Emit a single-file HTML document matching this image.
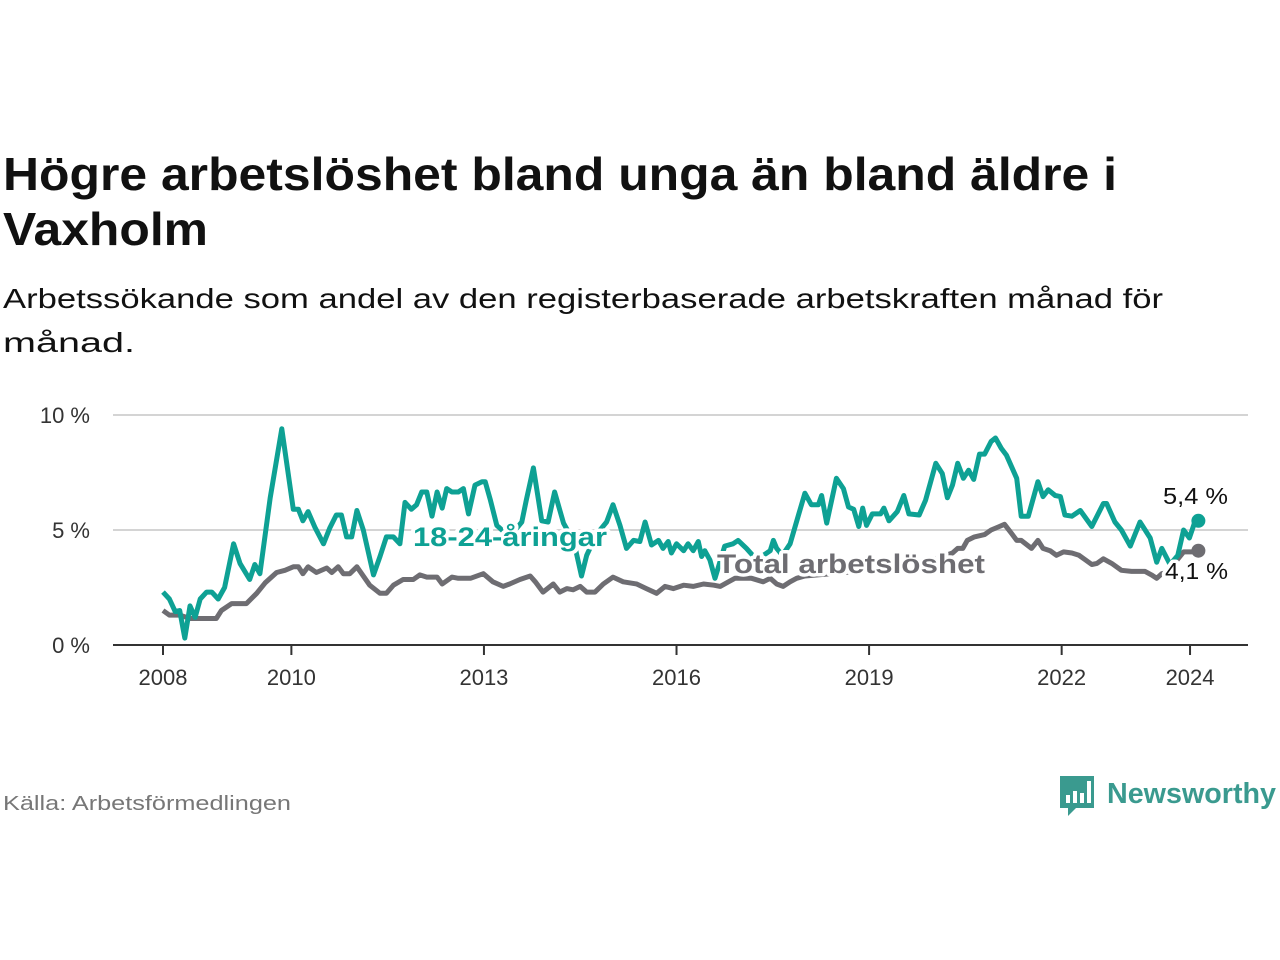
<!DOCTYPE html>
<html><head><meta charset="utf-8"><style>
html,body{margin:0;padding:0;background:#fff;}
svg{display:block;font-family:"Liberation Sans",sans-serif;}
</style></head><body>
<svg id="chart" width="1280" height="960" viewBox="0 0 1280 960" xmlns="http://www.w3.org/2000/svg">
<text x="3" y="190" font-size="46" font-weight="bold" fill="#111" textLength="1114" lengthAdjust="spacingAndGlyphs">Högre arbetslöshet bland unga än bland äldre i</text>
<text x="3" y="245" font-size="46" font-weight="bold" fill="#111" textLength="205" lengthAdjust="spacingAndGlyphs">Vaxholm</text>
<text x="3" y="308" font-size="28" fill="#111" textLength="1160" lengthAdjust="spacingAndGlyphs">Arbetssökande som andel av den registerbaserade arbetskraften månad för</text>
<text x="3" y="352" font-size="28" fill="#111" textLength="132" lengthAdjust="spacingAndGlyphs">månad.</text>
<g id="grid"></g>
<g id="series"></g>
<g id="labels"></g>
<text x="3" y="810" font-size="20" fill="#777" textLength="288" lengthAdjust="spacingAndGlyphs">Källa: Arbetsförmedlingen</text>
<g>
<path d="M1060 776 h34 v32 h-18 l-8 8 v-8 h-8 z" fill="#3a9a8f"/>
<rect x="1066" y="795" width="4" height="8" fill="#fff"/>
<rect x="1073" y="791" width="4" height="12" fill="#fff"/>
<rect x="1080" y="793" width="4" height="10" fill="#fff"/>
<rect x="1087" y="781" width="4" height="22" fill="#fff"/>
<text x="1107" y="803" font-size="29" font-weight="bold" fill="#3a9a8f" textLength="169" lengthAdjust="spacingAndGlyphs">Newsworthy</text>
</g>
</svg>
<script>
const yTicks=[0,5,10];
const yTickLabels=["0 %","5 %","10 %"];
const xTicks=[2008,2010,2013,2016,2019,2022,2024];
const youthT=[2008.0,2008.1,2008.19,2008.26,2008.34,2008.42,2008.5,2008.58,2008.68,2008.76,2008.86,2008.96,2009.1,2009.2,2009.35,2009.43,2009.51,2009.67,2009.85,2010.03,2010.11,2010.18,2010.26,2010.37,2010.5,2010.6,2010.7,2010.78,2010.86,2010.94,2011.02,2011.12,2011.28,2011.38,2011.48,2011.59,2011.69,2011.77,2011.87,2011.95,2012.03,2012.11,2012.19,2012.27,2012.35,2012.42,2012.5,2012.6,2012.68,2012.76,2012.86,2012.97,2013.02,2013.1,2013.2,2013.4,2013.59,2013.66,2013.77,2013.85,2013.9,2014.0,2014.1,2014.24,2014.4,2014.52,2014.6,2014.75,2014.91,2015.01,2015.12,2015.22,2015.33,2015.43,2015.51,2015.61,2015.72,2015.79,2015.87,2015.92,2016.0,2016.11,2016.18,2016.26,2016.34,2016.39,2016.44,2016.52,2016.6,2016.75,2016.88,2016.96,2017.09,2017.25,2017.46,2017.51,2017.56,2017.65,2017.77,2017.9,2018.0,2018.1,2018.21,2018.26,2018.34,2018.49,2018.6,2018.68,2018.76,2018.84,2018.9,2018.96,2019.05,2019.18,2019.23,2019.31,2019.44,2019.54,2019.62,2019.78,2019.88,2020.04,2020.14,2020.22,2020.3,2020.38,2020.47,2020.55,2020.63,2020.72,2020.8,2020.9,2020.97,2021.06,2021.14,2021.3,2021.37,2021.48,2021.63,2021.71,2021.79,2021.9,2021.98,2022.05,2022.16,2022.29,2022.47,2022.65,2022.7,2022.83,2022.93,2023.07,2023.22,2023.38,2023.48,2023.56,2023.69,2023.81,2023.9,2023.99,2024.08,2024.13];
const youthV=[2.3,2.0,1.45,1.5,0.3,1.7,1.2,2.0,2.3,2.3,2.0,2.5,4.4,3.55,2.85,3.5,3.1,6.4,9.4,5.9,5.9,5.4,5.8,5.1,4.4,5.1,5.65,5.65,4.7,4.7,5.85,5.0,3.05,3.85,4.7,4.7,4.4,6.2,5.9,6.1,6.65,6.65,5.6,6.65,5.95,6.8,6.65,6.65,6.8,5.7,6.95,7.1,7.1,6.3,5.2,4.7,5.35,6.3,7.7,6.3,5.4,5.35,6.65,5.3,4.5,3.0,3.9,4.8,5.35,6.1,5.2,4.2,4.55,4.5,5.35,4.35,4.55,4.2,4.5,4.0,4.4,4.1,4.4,4.1,4.5,3.85,4.1,3.7,2.9,4.3,4.4,4.55,4.2,3.7,4.1,4.55,4.2,3.9,4.4,5.65,6.6,6.1,6.1,6.5,5.3,7.25,6.8,6.0,5.9,5.15,5.95,5.2,5.7,5.7,5.95,5.4,5.8,6.5,5.7,5.65,6.3,7.9,7.45,6.4,6.95,7.9,7.25,7.6,7.2,8.3,8.3,8.85,9.0,8.55,8.25,7.25,5.6,5.6,7.1,6.45,6.75,6.5,6.45,5.65,5.6,5.85,5.15,6.15,6.15,5.35,5.0,4.3,5.35,4.65,3.6,4.2,3.5,3.9,5.0,4.65,5.4,5.4];
const totalT=[2008.0,2008.1,2008.26,2008.42,2008.83,2008.91,2009.07,2009.3,2009.46,2009.59,2009.77,2009.9,2010.03,2010.11,2010.18,2010.26,2010.39,2010.55,2010.63,2010.73,2010.81,2010.91,2011.02,2011.22,2011.38,2011.48,2011.59,2011.74,2011.9,2012.0,2012.11,2012.27,2012.35,2012.5,2012.6,2012.79,2012.99,2013.14,2013.3,2013.4,2013.56,2013.72,2013.8,2013.92,2014.08,2014.18,2014.29,2014.39,2014.5,2014.6,2014.73,2014.86,2015.01,2015.17,2015.38,2015.53,2015.69,2015.82,2015.95,2016.11,2016.26,2016.42,2016.58,2016.68,2016.81,2016.91,2017.04,2017.17,2017.35,2017.46,2017.56,2017.66,2017.77,2017.87,2018.0,2018.4,2018.8,2019.2,2019.6,2020.0,2020.3,2020.38,2020.46,2020.53,2020.64,2020.8,2020.9,2021.03,2021.11,2021.22,2021.3,2021.37,2021.53,2021.63,2021.71,2021.82,2021.92,2022.03,2022.16,2022.27,2022.37,2022.47,2022.55,2022.65,2022.78,2022.93,2023.09,2023.3,2023.4,2023.48,2023.56,2023.64,2023.9,2024.08,2024.13];
const totalV=[1.5,1.3,1.3,1.15,1.15,1.5,1.8,1.8,2.25,2.7,3.15,3.25,3.4,3.4,3.1,3.4,3.15,3.35,3.15,3.4,3.1,3.1,3.4,2.6,2.25,2.25,2.6,2.85,2.85,3.05,2.95,2.95,2.65,2.95,2.9,2.9,3.1,2.75,2.55,2.65,2.85,3.0,2.75,2.3,2.65,2.3,2.45,2.4,2.55,2.3,2.3,2.65,2.95,2.75,2.65,2.45,2.25,2.55,2.45,2.6,2.55,2.65,2.6,2.55,2.75,2.9,2.9,2.9,2.75,2.9,2.65,2.55,2.75,2.9,3.0,3.1,3.2,3.3,3.5,3.7,4.0,4.2,4.2,4.55,4.7,4.8,5.0,5.15,5.25,4.85,4.55,4.55,4.2,4.55,4.2,4.1,3.9,4.05,4.0,3.9,3.7,3.5,3.55,3.75,3.55,3.25,3.2,3.2,3.05,2.9,3.1,3.15,4.05,4.05,4.1];
const NS="http://www.w3.org/2000/svg";
const X=t=>163+(t-2008)*64.19;
const Y=v=>645-v*23;
function mk(tag,attrs,parent){const e=document.createElementNS(NS,tag);for(const k in attrs)e.setAttribute(k,attrs[k]);parent.appendChild(e);return e;}
const grid=document.getElementById('grid');
yTicks.forEach((v,i)=>{
  if(v>0){const l=mk('line',{x1:113,x2:1248,y1:Y(v),y2:Y(v),stroke:'#d4d4d4','stroke-width':2},grid);
  
  }
  const t=mk('text',{x:90,y:Y(v)+8,'font-size':22,fill:'#333','text-anchor':'end'},grid);
  
  
  t.textContent=yTickLabels[i];
});
const ax=mk('line',{x1:113,x2:1248,y1:645,y2:645,stroke:'#333','stroke-width':2},grid);


xTicks.forEach(y=>{
  const tk=mk('line',{x1:X(y),x2:X(y),y1:645,y2:655,stroke:'#333','stroke-width':2},grid);
  
  
  const t=mk('text',{x:X(y),y:685,'font-size':22,fill:'#333','text-anchor':'middle'},grid);
  
  
  t.textContent=String(y);
});
const ser=document.getElementById('series');
function line(T,V,color,name){
  const d=T.map((t,i)=>(i?'L':'M')+X(t).toFixed(1)+' '+Y(V[i]).toFixed(1)).join(' ');
  const p=mk('path',{d:d,fill:'none',stroke:color,'stroke-width':5,'stroke-linejoin':'round'},ser);
  
  
  const n=T.length-1;
  const c=mk('circle',{cx:X(T[n]),cy:Y(V[n]),r:7,fill:color},ser);
  
  
}
line(totalT,totalV,'#6e6d72','total-line');
line(youthT,youthV,'#0ea194','youth-line');
const lab=document.getElementById('labels');
function label(x,y,txt,color,size,bold,name,anchor,len){
  const a={x:x,y:y,'font-size':size,fill:color,'font-weight':bold?'bold':'normal',stroke:'#fff','stroke-width':7,'paint-order':'stroke','stroke-linejoin':'round','text-anchor':anchor||'start'};
  if(len){a.textLength=len;a.lengthAdjust='spacingAndGlyphs';}
  const t=mk('text',a,lab);
  
  
  t.textContent=txt;
}
label(413,546,'18-24-åringar','#0ea194',27,true,'youth-series-label','start',194);
label(717,573,'Total arbetslöshet','#6e6d72',27,true,'total-series-label','start',268);
label(1163,504,'5,4 %','#111',23,false,'youth-end-value','start',65);
label(1165,579,'4,1 %','#111',23,false,'total-end-value','start',63);
</script>
</body></html>
